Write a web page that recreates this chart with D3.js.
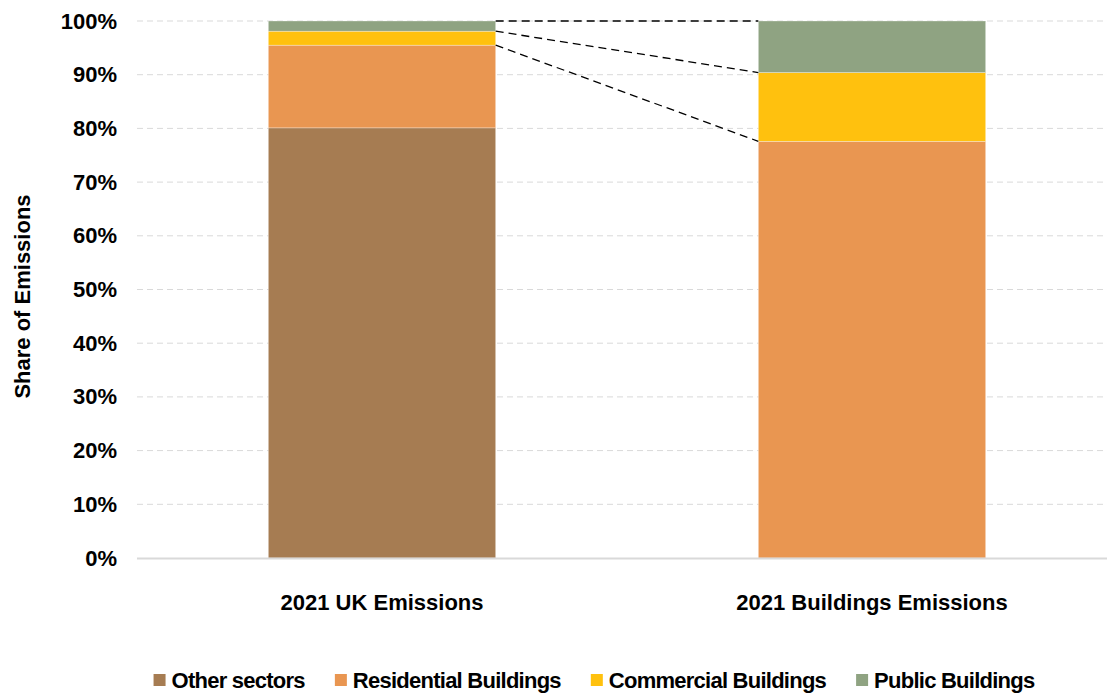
<!DOCTYPE html>
<html>
<head>
<meta charset="utf-8">
<script src="https://cdn.jsdelivr.net/npm/d3@7"></script>
<style>
  body { margin: 0; background: #fff; }
  text { font-family: "Liberation Sans", Arial, Helvetica, sans-serif; font-weight: bold; fill: #000; }
</style>
</head>
<body>
<div id="chart"></div>
<script>
// data
const categories = ['2021 UK Emissions', '2021 Buildings Emissions'];
const seriesNames = ['Other sectors', 'Residential Buildings', 'Commercial Buildings', 'Public Buildings'];
const otherSectors = [80.1, 0];
const residential = [15.4, 77.6];
const commercial = [2.6, 12.8];
const publicBldg = [1.9, 9.6];
const yTicks = [0, 10, 20, 30, 40, 50, 60, 70, 80, 90, 100];
const colors = ['#A67C52', '#E99651', '#FFC10E', '#8FA382'];

const width = 1107, height = 693;
const margin = { top: 21, right: 0, bottom: 135, left: 137 };
const fontSize = '22px';

const svg = d3.select('#chart').append('svg')
  .attr('width', width)
  .attr('height', height);

const rows = categories.map((c, i) => ({
  cat: c,
  'Other sectors': otherSectors[i],
  'Residential Buildings': residential[i],
  'Commercial Buildings': commercial[i],
  'Public Buildings': publicBldg[i]
}));

const stacked = d3.stack().keys(seriesNames)(rows);

const x = d3.scaleBand()
  .domain(categories)
  .range([margin.left, 1117])
  .paddingInner(0.536)
  .paddingOuter(0.268);

const y = d3.scaleLinear()
  .domain([0, 100])
  .range([height - margin.bottom, margin.top]);

// gridlines
svg.append('g')
  .selectAll('line')
  .data(yTicks.filter(d => d > 0))
  .join('line')
  .attr('x1', margin.left)
  .attr('x2', width)
  .attr('y1', d => y(d))
  .attr('y2', d => y(d))
  .attr('stroke', '#d9d9d9')
  .attr('stroke-width', 1)
  .attr('stroke-dasharray', '6,4');

// y axis labels
const yAxis = svg.append('g')
  .attr('transform', `translate(${margin.left},0)`)
  .call(d3.axisLeft(y).tickValues(yTicks).tickFormat(d => d + '%').tickSize(0).tickPadding(20));
yAxis.select('.domain').remove();
yAxis.selectAll('text')
  .style('font-size', fontSize)
  .style('font-family', '"Liberation Sans", Arial, sans-serif')
  .style('font-weight', 'bold')
  .attr('fill', '#000');

// bars
svg.append('g')
  .selectAll('g')
  .data(stacked)
  .join('g')
  .attr('fill', (d, i) => colors[i])
  .selectAll('rect')
  .data(d => d.map(v => ({ ...v, cat: v.data.cat })))
  .join('rect')
  .attr('x', d => x(d.cat))
  .attr('y', d => y(d[1]))
  .attr('width', x.bandwidth())
  .attr('height', d => Math.max(0, y(d[0]) - y(d[1])))
  .attr('stroke', '#fff')
  .attr('stroke-opacity', 0.5)
  .attr('stroke-width', 0.6);

// x axis line
svg.append('line')
  .attr('x1', margin.left)
  .attr('x2', width)
  .attr('y1', y(0) + 0.5)
  .attr('y2', y(0) + 0.5)
  .attr('stroke', '#d9d9d9')
  .attr('stroke-width', 2);

// category labels
const xAxis = svg.append('g')
  .attr('transform', `translate(0,${y(0)})`)
  .call(d3.axisBottom(x).tickSize(0).tickPadding(36));
xAxis.select('.domain').remove();
xAxis.selectAll('text')
  .style('font-size', fontSize)
  .style('font-family', '"Liberation Sans", Arial, sans-serif')
  .style('font-weight', 'bold')
  .attr('fill', '#000');

// connector lines between the bars
const x1 = x(categories[0]) + x.bandwidth();
const x2 = x(categories[1]);
const cum1 = [100, 100 - publicBldg[0], 100 - publicBldg[0] - commercial[0]];
const cum2 = [100, 100 - publicBldg[1], 100 - publicBldg[1] - commercial[1]];
svg.append('g')
  .selectAll('line')
  .data(d3.range(3))
  .join('line')
  .attr('x1', x1)
  .attr('x2', x2)
  .attr('y1', i => y(cum1[i]))
  .attr('y2', i => y(cum2[i]))
  .attr('stroke', '#000')
  .attr('stroke-width', 1.3)
  .attr('stroke-dasharray', '8,5');

// y axis title
svg.append('text')
  .attr('transform', `translate(22,${(y(0) + y(100)) / 2 + 7}) rotate(-90)`)
  .attr('text-anchor', 'middle')
  .attr('dy', '0.35em')
  .style('font-size', fontSize)
  .text('Share of Emissions');

// legend
const legend = svg.append('g').attr('transform', 'translate(0,680)');
const items = legend.selectAll('g')
  .data(seriesNames)
  .join('g');
items.append('rect')
  .attr('x', 0)
  .attr('y', -6)
  .attr('width', 12)
  .attr('height', 12)
  .attr('fill', (d, i) => colors[i]);
items.append('text')
  .attr('x', 18)
  .attr('dy', '0.35em')
  .style('font-size', fontSize)
  .style('letter-spacing', '-0.75px')
  .text(d => d);
// lay out legend items by measured width
const gap = 30;
const widths = [];
items.each(function () { widths.push(18 + d3.select(this).select('text').node().getComputedTextLength()); });
const total = d3.sum(widths) + gap * (widths.length - 1);
let cx = 594 - total / 2;
items.attr('transform', (d, i) => {
  const t = `translate(${cx},0)`;
  cx += widths[i] + gap;
  return t;
});
</script>
</body>
</html>
